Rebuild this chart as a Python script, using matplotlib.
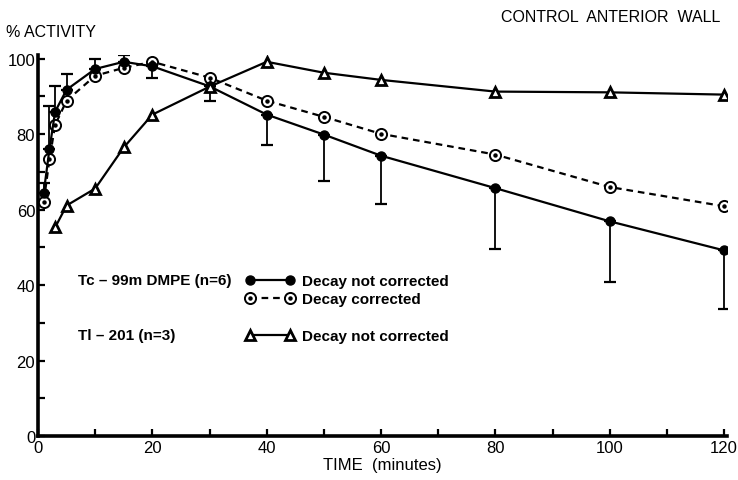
#!/usr/bin/env python3
"""Time-activity curves, control anterior wall (Tc-99m DMPE vs Tl-201)"""

from matplotlib import pyplot as plt
from matplotlib.ticker import MultipleLocator
from matplotlib.lines import Line2D
from matplotlib.legend_handler import HandlerTuple

# Tc-99m DMPE (n=6)
tc_time = [1, 2, 3, 5, 10, 15, 20, 30, 40, 50, 60, 80, 100, 120]
tc_raw = [64.5, 76, 86, 91.8, 97.3, 99.2, 98, 92.7, 85.2, 79.9, 74.3, 65.7, 56.9, 49.2]
tc_err_up = [2.7, 11.4, 6.7, 4.1, 2.7, 1.7, 0, 0, 0, 0, 0, 0, 0, 0]
tc_err_down = [0, 0, 0, 0, 0, 0, 3, 4.0, 8.0, 12.2, 12.7, 16.0, 16.2, 15.5]
tc_corrected = [62.1, 73.3, 82.5, 88.9, 95.5, 97.6, 99.2, 95.0, 88.9, 84.6, 80.1, 74.6, 66.0, 60.9]

# Tl-201 (n=3)
tl_time = [3, 5, 10, 15, 20, 30, 40, 50, 60, 80, 100, 120]
tl_raw = [55.3, 61.1, 65.6, 76.5, 85.2, 92.6, 99.2, 96.3, 94.4, 91.3, 91.1, 90.5]

x_ticks = [0, 20, 40, 60, 80, 100, 120]
y_ticks = [0, 20, 40, 60, 80, 100]

plt.rcParams['font.family'] = ['Liberation Sans', 'DejaVu Sans']

fig = plt.figure(figsize=(7.38, 4.81), dpi=100)
ax = fig.add_axes([38 / 738, 44 / 481, 689 / 738, 381 / 481])

lw = 1.6
ax.errorbar(tc_time, tc_raw, yerr=[tc_err_down, tc_err_up], fmt='none',
            ecolor='black', elinewidth=1.3, capsize=4, capthick=1.6, zorder=2)
l_raw, = ax.plot(tc_time, tc_raw, '-', color='black', lw=lw,
                 marker='o', ms=6.5, mfc='black', mec='black', zorder=4)
l_cor, = ax.plot(tc_time, tc_corrected, '--', color='black', lw=lw,
                 dashes=(3, 2.2), marker='o', ms=8, mfc='white', mec='black',
                 mew=1.4, zorder=3)
# centre dot of the open circles
ax.plot(tc_time, tc_corrected, ' ', marker='o', ms=2.2, mfc='black',
        mec='black', zorder=3.5)
l_tl, = ax.plot(tl_time, tl_raw, '-', color='black', lw=lw,
                marker='^', ms=7, mfc='white', mec='black', mew=2.0, zorder=4)

ax.set_xlim(0, 120.5)
ax.set_ylim(0, 101)
ax.set_xticks(x_ticks)
ax.set_yticks(y_ticks)
ax.xaxis.set_minor_locator(MultipleLocator(10))
ax.yaxis.set_minor_locator(MultipleLocator(10))
ax.tick_params(direction='in', width=1.6, length=5, labelsize=12, pad=3)
ax.tick_params(which='minor', direction='in', width=1.6, length=5)
ax.tick_params(axis='y', pad=2)
for side in ['top', 'right']:
    ax.spines[side].set_visible(False)
for side in ['left', 'bottom']:
    ax.spines[side].set_linewidth(2.6)
ax.set_xlabel('TIME  (minutes)', fontsize=12, labelpad=1)

fig.text(6 / 738, 1 - 33 / 481, '% ACTIVITY', fontsize=11.5, va='center')
fig.text(720 / 738, 1 - 18 / 481, 'CONTROL  ANTERIOR  WALL', fontsize=11.5,
         ha='right', va='center')

# Legend: group labels plus handles
ax.text(0.058, 0.41, 'Tc – 99m DMPE (n=6)', transform=ax.transAxes,
        fontsize=11, fontweight='bold', va='center')
ax.text(0.058, 0.265, 'Tl – 201 (n=3)', transform=ax.transAxes,
        fontsize=11, fontweight='bold', va='center')

dot = Line2D([], [], ls=' ', marker='o', ms=2.2, mfc='black', mec='black')
leg1 = ax.legend([l_raw, (l_cor, dot)], ['Decay not corrected', 'Decay corrected'],
                 handler_map={tuple: HandlerTuple(ndivide=1)},
                 loc='upper left', bbox_to_anchor=(0.29, 0.445), frameon=False,
                 numpoints=2, handlelength=3.2, handletextpad=0.5,
                 labelspacing=0.25, borderpad=0,
                 prop={'size': 11, 'weight': 'bold'})
ax.add_artist(leg1)
ax.legend([l_tl], ['Decay not corrected'], loc='upper left',
          bbox_to_anchor=(0.29, 0.3), frameon=False, numpoints=2,
          handlelength=3.2, handletextpad=0.5, borderpad=0,
          prop={'size': 11, 'weight': 'bold'})

fig.savefig('out.png', dpi=100)
